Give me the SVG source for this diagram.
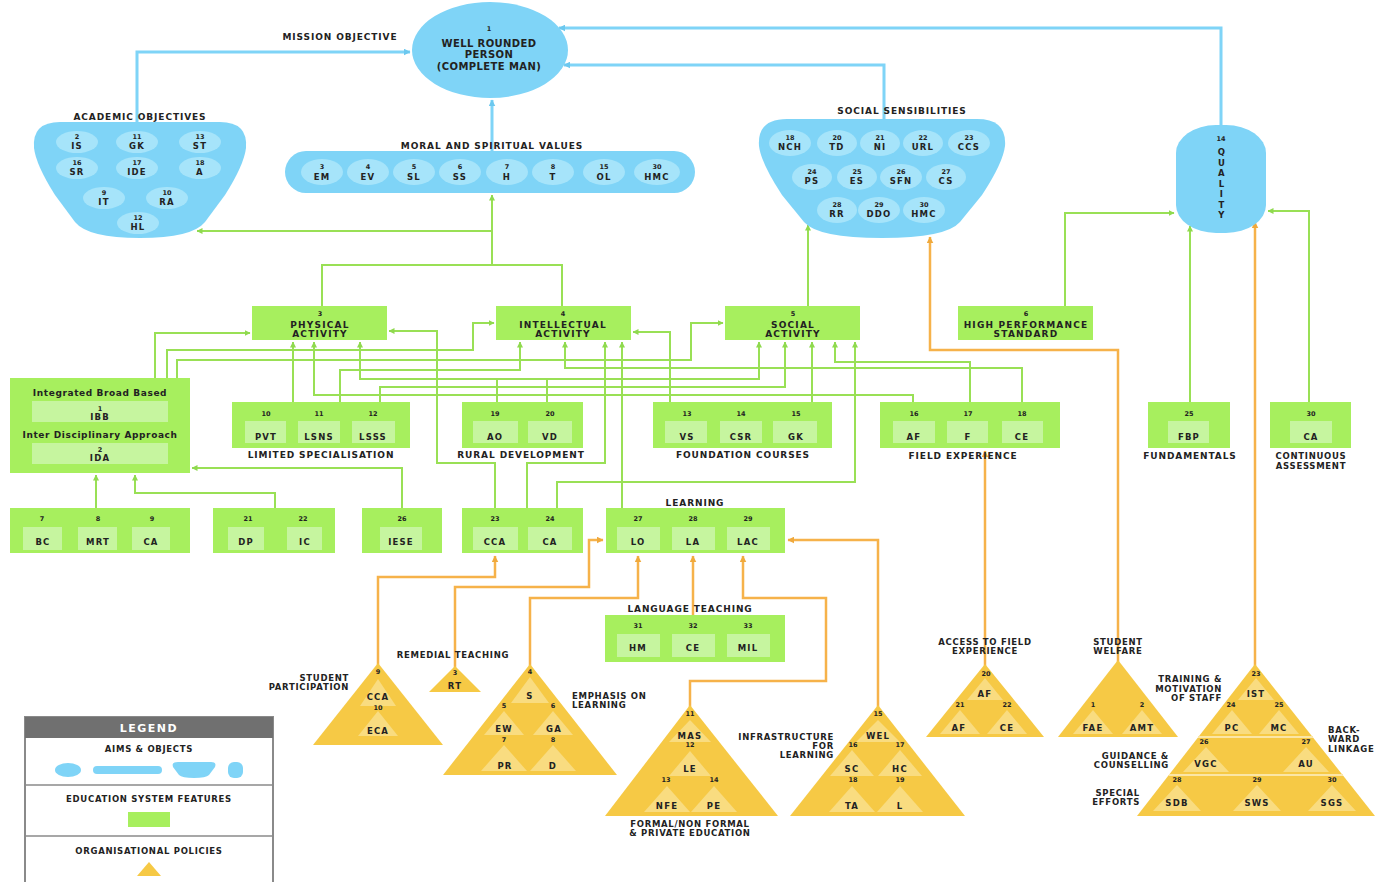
<svg xmlns="http://www.w3.org/2000/svg" width="1387" height="882" viewBox="0 0 1387 882">
<defs>
<style>
.t{font-family:"DejaVu Sans","Liberation Sans",Arial,sans-serif;font-weight:bold;fill:#222;text-anchor:middle}
.cap{font-size:9px;letter-spacing:0.9px}
.cap2{font-size:8.5px;letter-spacing:0.7px}
.r{text-anchor:end}.l{text-anchor:start}
.nm{font-size:6.5px}
.lb{font-size:8.5px;letter-spacing:1.2px}
.act{font-size:9px;letter-spacing:1.2px}
.mix{font-size:9px;letter-spacing:0.6px}
.big{font-size:10px;letter-spacing:0.4px}
.blue{fill:#7fd4f7}
.bin{fill:#a6e4fa}
.grn{fill:#a7ef5e}
.gin{fill:#c6f59f}
.gold{fill:#f6c945}
.goldin{fill:#f9dc80}
.cg{fill:none;stroke:#99e055;stroke-width:2;marker-end:url(#ag)}
.cgn{fill:none;stroke:#99e055;stroke-width:2}
.co{fill:none;stroke:#f6b24a;stroke-width:2.5;marker-end:url(#ao)}
.cb{fill:none;stroke:#7fd4f7;stroke-width:3;marker-end:url(#ab)}
</style>
<marker id="ag" viewBox="0 0 6 6" refX="5.5" refY="3" markerWidth="6" markerHeight="6" markerUnits="userSpaceOnUse" orient="auto"><path d="M0,0 L6,3 L0,6 Z" fill="#8fd94f"/></marker>
<marker id="ao" viewBox="0 0 6 6" refX="5.5" refY="3" markerWidth="7" markerHeight="7" markerUnits="userSpaceOnUse" orient="auto"><path d="M0,0 L6,3 L0,6 Z" fill="#f0a93c"/></marker>
<marker id="ab" viewBox="0 0 6 6" refX="5.5" refY="3" markerWidth="7" markerHeight="7" markerUnits="userSpaceOnUse" orient="auto"><path d="M0,0 L6,3 L0,6 Z" fill="#6cc8ef"/></marker>
</defs>
<rect width="1387" height="882" fill="#ffffff"/>

<g id="connectors">
<path class="cb" d="M137,122 V52 H410"/>
<path class="cb" d="M1221,125 V28 H559"/>
<path class="cb" d="M884,119 V65 H564"/>
<path class="cb" d="M492,151 V100"/>
<path class="cgn" d="M322,306 V265 H562 V306"/>
<path class="cg" d="M492,265 V195"/>
<path class="cg" d="M492,231 H197"/>
<path class="cg" d="M808,306 V225"/>
<path class="cg" d="M1065,306 V213 H1174"/>
<path class="cg" d="M1190,402 V226"/>
<path class="cg" d="M1309,402 V211 H1268"/>
<path class="cg" d="M155,378 V333 H250"/>
<path class="cg" d="M167,378 V350 H473 V323 H494"/>
<path class="cg" d="M177,378 V360 H691 V323 H723"/>
<path class="cg" d="M293,402 V342"/>
<path class="cg" d="M340,402 V370 H520 V342"/>
<path class="cg" d="M380,402 V387 H785 V342"/>
<path class="cg" d="M497,402 V379 H360 V342"/>
<path class="cgn" d="M497,379 H547"/>
<path class="cg" d="M547,402 V379 H759 V342"/>
<path class="cg" d="M913,402 V395 H314 V342"/>
<path class="cg" d="M970,402 V362 H835 V342"/>
<path class="cg" d="M1022,402 V368 H565 V342"/>
<path class="cg" d="M670,402 V332 H633"/>
<path class="cg" d="M812,402 V342"/>
<path class="cg" d="M495,508 V463 H437 V331 H389"/>
<path class="cg" d="M527,508 V463 H605 V342"/>
<path class="cg" d="M557,508 V482 H855 V342"/>
<path class="cg" d="M622,508 V342"/>
<path class="cg" d="M96,508 V475"/>
<path class="cg" d="M275,508 V493 H135 V475"/>
<path class="cg" d="M402,508 V468 H192"/>
<path class="co" d="M378,665 V577 H495 V556"/>
<path class="co" d="M455,668 V587 H589 V540 H603"/>
<path class="co" d="M530,666 V598 H638 V556"/>
<path class="co" d="M693,615 V556"/>
<path class="co" d="M690,707 V681 H826 V598 H743 V556"/>
<path class="co" d="M878,707 V540 H788"/>
<path class="co" d="M985,666 V451"/>
<path class="co" d="M1118,662 V350 H930 V237"/>
<path class="co" d="M1255,666 V222"/>
</g>

<g id="mission">
<ellipse class="blue" cx="490" cy="50" rx="78" ry="48"/>
<text class="t nm" x="489" y="31">1</text>
<text class="t big" x="489" y="47">WELL ROUNDED</text>
<text class="t big" x="489" y="58">PERSON</text>
<text class="t big" x="489" y="70">(COMPLETE MAN)</text>
<text class="t cap" x="340" y="40">MISSION OBJECTIVE</text>
</g>

<g id="academic-objectives">
<text class="t cap" x="140" y="120">ACADEMIC  OBJECTIVES</text>
<path class="blue" d="M60,122 H220 Q248,122 246,148 Q244,165 225,195 L205,222 Q192,238 140,238 Q88,238 75,222 L55,195 Q36,165 34,148 Q32,122 60,122 Z"/>
<ellipse class="bin" cx="77" cy="142" rx="21" ry="11"/><text class="t nm" x="77" y="139">2</text><text class="t lb" x="77" y="149">IS</text>
<ellipse class="bin" cx="137" cy="142" rx="21" ry="11"/><text class="t nm" x="137" y="139">11</text><text class="t lb" x="137" y="149">GK</text>
<ellipse class="bin" cx="200" cy="142" rx="21" ry="11"/><text class="t nm" x="200" y="139">13</text><text class="t lb" x="200" y="149">ST</text>
<ellipse class="bin" cx="77" cy="168" rx="21" ry="11"/><text class="t nm" x="77" y="165">16</text><text class="t lb" x="77" y="175">SR</text>
<ellipse class="bin" cx="137" cy="168" rx="21" ry="11"/><text class="t nm" x="137" y="165">17</text><text class="t lb" x="137" y="175">IDE</text>
<ellipse class="bin" cx="200" cy="168" rx="21" ry="11"/><text class="t nm" x="200" y="165">18</text><text class="t lb" x="200" y="175">A</text>
<ellipse class="bin" cx="104" cy="198" rx="21" ry="11"/><text class="t nm" x="104" y="195">9</text><text class="t lb" x="104" y="205">IT</text>
<ellipse class="bin" cx="167" cy="198" rx="21" ry="11"/><text class="t nm" x="167" y="195">10</text><text class="t lb" x="167" y="205">RA</text>
<ellipse class="bin" cx="138" cy="223" rx="21" ry="11"/><text class="t nm" x="138" y="220">12</text><text class="t lb" x="138" y="230">HL</text>
</g>

<g id="moral-values">
<text class="t cap" x="492" y="149">MORAL AND  SPIRITUAL VALUES</text>
<rect class="blue" x="285" y="151" width="410" height="42" rx="21"/>
<ellipse class="bin" cx="322" cy="172" rx="21" ry="13"/><text class="t nm" x="322" y="169">3</text><text class="t lb" x="322" y="180">EM</text>
<ellipse class="bin" cx="368" cy="172" rx="21" ry="13"/><text class="t nm" x="368" y="169">4</text><text class="t lb" x="368" y="180">EV</text>
<ellipse class="bin" cx="414" cy="172" rx="21" ry="13"/><text class="t nm" x="414" y="169">5</text><text class="t lb" x="414" y="180">SL</text>
<ellipse class="bin" cx="460" cy="172" rx="21" ry="13"/><text class="t nm" x="460" y="169">6</text><text class="t lb" x="460" y="180">SS</text>
<ellipse class="bin" cx="507" cy="172" rx="21" ry="13"/><text class="t nm" x="507" y="169">7</text><text class="t lb" x="507" y="180">H</text>
<ellipse class="bin" cx="553" cy="172" rx="21" ry="13"/><text class="t nm" x="553" y="169">8</text><text class="t lb" x="553" y="180">T</text>
<ellipse class="bin" cx="604" cy="172" rx="21" ry="13"/><text class="t nm" x="604" y="169">15</text><text class="t lb" x="604" y="180">OL</text>
<ellipse class="bin" cx="657" cy="172" rx="23" ry="13"/><text class="t nm" x="657" y="169">30</text><text class="t lb" x="657" y="180">HMC</text>
</g>

<g id="social-sensibilities">
<text class="t cap" x="902" y="114">SOCIAL  SENSIBILITIES</text>
<path class="blue" d="M787,119 H977 Q1007,119 1005,146 Q1003,163 982,195 L960,222 Q946,238 882,238 Q818,238 804,222 L782,195 Q761,163 759,146 Q757,119 787,119 Z"/>
<ellipse class="bin" cx="790" cy="143" rx="21" ry="13"/><text class="t nm" x="790" y="140">18</text><text class="t lb" x="790" y="150">NCH</text>
<ellipse class="bin" cx="837" cy="143" rx="20" ry="13"/><text class="t nm" x="837" y="140">20</text><text class="t lb" x="837" y="150">TD</text>
<ellipse class="bin" cx="880" cy="143" rx="20" ry="13"/><text class="t nm" x="880" y="140">21</text><text class="t lb" x="880" y="150">NI</text>
<ellipse class="bin" cx="923" cy="143" rx="20" ry="13"/><text class="t nm" x="923" y="140">22</text><text class="t lb" x="923" y="150">URL</text>
<ellipse class="bin" cx="969" cy="143" rx="21" ry="13"/><text class="t nm" x="969" y="140">23</text><text class="t lb" x="969" y="150">CCS</text>
<ellipse class="bin" cx="812" cy="177" rx="20" ry="13"/><text class="t nm" x="812" y="174">24</text><text class="t lb" x="812" y="184">PS</text>
<ellipse class="bin" cx="857" cy="177" rx="20" ry="13"/><text class="t nm" x="857" y="174">25</text><text class="t lb" x="857" y="184">ES</text>
<ellipse class="bin" cx="901" cy="177" rx="21" ry="13"/><text class="t nm" x="901" y="174">26</text><text class="t lb" x="901" y="184">SFN</text>
<ellipse class="bin" cx="946" cy="177" rx="20" ry="13"/><text class="t nm" x="946" y="174">27</text><text class="t lb" x="946" y="184">CS</text>
<ellipse class="bin" cx="837" cy="210" rx="20" ry="13"/><text class="t nm" x="837" y="207">28</text><text class="t lb" x="837" y="217">RR</text>
<ellipse class="bin" cx="879" cy="210" rx="21" ry="13"/><text class="t nm" x="879" y="207">29</text><text class="t lb" x="879" y="217">DDO</text>
<ellipse class="bin" cx="924" cy="210" rx="21" ry="13"/><text class="t nm" x="924" y="207">30</text><text class="t lb" x="924" y="217">HMC</text>
</g>

<g id="quality">
<rect class="blue" x="1176" y="125" width="90" height="108" rx="40" ry="28"/>
<text class="t nm" x="1221" y="141">14</text>
<text class="t lb" x="1222" y="155">Q</text>
<text class="t lb" x="1222" y="165.5">U</text>
<text class="t lb" x="1222" y="176">A</text>
<text class="t lb" x="1222" y="186.5">L</text>
<text class="t lb" x="1222" y="197">I</text>
<text class="t lb" x="1222" y="207.5">T</text>
<text class="t lb" x="1222" y="218">Y</text>
</g>

<g id="physical-activity">
<rect class="grn" x="252" y="306" width="135" height="34"/>
<text class="t nm" x="320" y="315.5">3</text>
<text class="t act" x="320" y="327.5">PHYSICAL</text>
<text class="t act" x="320" y="336.5">ACTIVITY</text>
</g>
<g id="intellectual-activity">
<rect class="grn" x="496" y="306" width="135" height="34"/>
<text class="t nm" x="563" y="315.5">4</text>
<text class="t act" x="563" y="327.5">INTELLECTUAL</text>
<text class="t act" x="563" y="336.5">ACTIVITY</text>
</g>
<g id="social-activity">
<rect class="grn" x="725" y="306" width="135" height="34"/>
<text class="t nm" x="793" y="315.5">5</text>
<text class="t act" x="793" y="327.5">SOCIAL</text>
<text class="t act" x="793" y="336.5">ACTIVITY</text>
</g>
<g id="high-performance">
<rect class="grn" x="958" y="306" width="135" height="34"/>
<text class="t nm" x="1026" y="315.5">6</text>
<text class="t act" x="1026" y="327.5">HIGH PERFORMANCE</text>
<text class="t act" x="1026" y="336.5">STANDARD</text>
</g>

<g id="integrated">
<rect class="grn" x="10" y="378" width="180" height="95"/>
<text class="t mix" x="100" y="396">Integrated Broad Based</text>
<rect class="gin" x="32" y="401" width="136" height="21"/>
<text class="t nm" x="100" y="410.5">1</text>
<text class="t lb" x="100" y="420">IBB</text>
<text class="t mix" x="100" y="437.5">Inter Disciplinary Approach</text>
<rect class="gin" x="32" y="443" width="136" height="21"/>
<text class="t nm" x="100" y="451.5">2</text>
<text class="t lb" x="100" y="461">IDA</text>
</g>

<g id="limited-specialisation">
<rect class="grn" x="232" y="402" width="178" height="46"/>
<rect class="gin" x="245" y="421" width="41" height="22"/><rect class="gin" x="298" y="421" width="42" height="22"/><rect class="gin" x="352" y="421" width="43" height="22"/>
<text class="t nm" x="266" y="415.5">10</text><text class="t nm" x="319" y="415.5">11</text><text class="t nm" x="373" y="415.5">12</text>
<text class="t lb" x="266" y="440">PVT</text><text class="t lb" x="319" y="440">LSNS</text><text class="t lb" x="373" y="440">LSSS</text>
<text class="t cap" x="321" y="458">LIMITED SPECIALISATION</text>
</g>

<g id="rural-development">
<rect class="grn" x="462" y="402" width="121" height="46"/>
<rect class="gin" x="473" y="421" width="45" height="22"/><rect class="gin" x="528" y="421" width="44" height="22"/>
<text class="t nm" x="495" y="415.5">19</text><text class="t nm" x="550" y="415.5">20</text>
<text class="t lb" x="495" y="440">AO</text><text class="t lb" x="550" y="440">VD</text>
<text class="t cap" x="521" y="458">RURAL DEVELOPMENT</text>
</g>

<g id="foundation-courses">
<rect class="grn" x="653" y="402" width="179" height="46"/>
<rect class="gin" x="665" y="421" width="42" height="22"/><rect class="gin" x="720" y="421" width="42" height="22"/><rect class="gin" x="773" y="421" width="44" height="22"/>
<text class="t nm" x="687" y="415.5">13</text><text class="t nm" x="741" y="415.5">14</text><text class="t nm" x="796" y="415.5">15</text>
<text class="t lb" x="687" y="440">VS</text><text class="t lb" x="741" y="440">CSR</text><text class="t lb" x="796" y="440">GK</text>
<text class="t cap" x="743" y="458">FOUNDATION COURSES</text>
</g>

<g id="field-experience">
<rect class="grn" x="880" y="402" width="180" height="46"/>
<rect class="gin" x="893" y="421" width="42" height="22"/><rect class="gin" x="947" y="421" width="41" height="22"/><rect class="gin" x="1002" y="421" width="41" height="22"/>
<text class="t nm" x="914" y="415.5">16</text><text class="t nm" x="968" y="415.5">17</text><text class="t nm" x="1022" y="415.5">18</text>
<text class="t lb" x="914" y="440">AF</text><text class="t lb" x="968" y="440">F</text><text class="t lb" x="1022" y="440">CE</text>
<text class="t cap" x="963" y="459">FIELD EXPERIENCE</text>
</g>

<g id="fundamentals">
<rect class="grn" x="1148" y="402" width="82" height="46"/>
<rect class="gin" x="1168" y="421" width="41" height="22"/>
<text class="t nm" x="1189" y="415.5">25</text>
<text class="t lb" x="1189" y="440">FBP</text>
<text class="t cap" x="1190" y="459">FUNDAMENTALS</text>
</g>

<g id="continuous-assessment">
<rect class="grn" x="1270" y="402" width="81" height="46"/>
<rect class="gin" x="1290" y="421" width="42" height="22"/>
<text class="t nm" x="1311" y="415.5">30</text>
<text class="t lb" x="1311" y="440">CA</text>
<text class="t cap2" x="1311" y="459">CONTINUOUS</text>
<text class="t cap2" x="1311" y="469">ASSESSMENT</text>
</g>

<g id="bc-mrt-ca">
<rect class="grn" x="10" y="508" width="180" height="45"/>
<rect class="gin" x="23" y="527" width="39" height="23"/><rect class="gin" x="78" y="527" width="39" height="23"/><rect class="gin" x="132" y="527" width="38" height="23"/>
<text class="t nm" x="42" y="520.5">7</text><text class="t nm" x="98" y="520.5">8</text><text class="t nm" x="152" y="520.5">9</text>
<text class="t lb" x="43" y="545">BC</text><text class="t lb" x="98" y="545">MRT</text><text class="t lb" x="151" y="545">CA</text>
</g>

<g id="dp-ic">
<rect class="grn" x="213" y="508" width="122" height="45"/>
<rect class="gin" x="228" y="527" width="36" height="23"/><rect class="gin" x="287" y="527" width="35" height="23"/>
<text class="t nm" x="248" y="520.5">21</text><text class="t nm" x="303" y="520.5">22</text>
<text class="t lb" x="246" y="545">DP</text><text class="t lb" x="305" y="545">IC</text>
</g>

<g id="iese">
<rect class="grn" x="362" y="508" width="80" height="45"/>
<rect class="gin" x="380" y="527" width="42" height="23"/>
<text class="t nm" x="402" y="520.5">26</text>
<text class="t lb" x="401" y="545">IESE</text>
</g>

<g id="cca-ca">
<rect class="grn" x="462" y="508" width="121" height="45"/>
<rect class="gin" x="473" y="527" width="45" height="23"/><rect class="gin" x="528" y="527" width="44" height="23"/>
<text class="t nm" x="495" y="520.5">23</text><text class="t nm" x="550" y="520.5">24</text>
<text class="t lb" x="495" y="545">CCA</text><text class="t lb" x="550" y="545">CA</text>
</g>

<g id="learning">
<text class="t cap" x="695" y="506">LEARNING</text>
<rect class="grn" x="606" y="508" width="179" height="45"/>
<rect class="gin" x="617" y="527" width="43" height="23"/><rect class="gin" x="672" y="527" width="43" height="23"/><rect class="gin" x="727" y="527" width="43" height="23"/>
<text class="t nm" x="638" y="520.5">27</text><text class="t nm" x="693" y="520.5">28</text><text class="t nm" x="748" y="520.5">29</text>
<text class="t lb" x="638" y="545">LO</text><text class="t lb" x="693" y="545">LA</text><text class="t lb" x="748" y="545">LAC</text>
</g>

<g id="language-teaching">
<text class="t cap" x="690" y="612">LANGUAGE TEACHING</text>
<rect class="grn" x="605" y="615" width="180" height="47"/>
<rect class="gin" x="617" y="634" width="43" height="23"/><rect class="gin" x="672" y="634" width="43" height="23"/><rect class="gin" x="727" y="634" width="43" height="23"/>
<text class="t nm" x="638" y="627.5">31</text><text class="t nm" x="693" y="627.5">32</text><text class="t nm" x="748" y="627.5">33</text>
<text class="t lb" x="638" y="651">HM</text><text class="t lb" x="693" y="651">CE</text><text class="t lb" x="748" y="651">MIL</text>
</g>

<g id="student-participation">
<polygon class="gold" points="378,663 443,745 313,745"/>
<polygon class="goldin" points="378,679 396,706 360,706"/>
<polygon class="goldin" points="378,711 398,736 358,736"/>
<text class="t nm" x="378" y="673.5">9</text>
<text class="t lb" x="378" y="700">CCA</text>
<text class="t nm" x="378" y="709.5">10</text>
<text class="t lb" x="378" y="734">ECA</text>
<text class="t cap2 r" x="349" y="681">STUDENT</text>
<text class="t cap2 r" x="349" y="690">PARTICIPATION</text>
</g>

<g id="remedial-teaching">
<polygon class="gold" points="455,666 481,692 429,692"/>
<text class="t nm" x="455" y="675">3</text>
<text class="t lb" x="455" y="689">RT</text>
<text class="t cap2" x="453" y="658">REMEDIAL TEACHING</text>
</g>

<g id="emphasis-on-learning">
<polygon class="gold" points="530,664 617,775 443,775"/>
<polygon class="goldin" points="530,677 549,703 511,703"/>
<polygon class="goldin" points="504,711 524,735 484,735"/>
<polygon class="goldin" points="553,711 573,735 533,735"/>
<polygon class="goldin" points="504,745 527,771 481,771"/>
<polygon class="goldin" points="553,745 576,771 530,771"/>
<text class="t nm" x="530" y="673.5">4</text>
<text class="t lb" x="530" y="699">S</text>
<text class="t nm" x="504" y="707.5">5</text><text class="t nm" x="553" y="707.5">6</text>
<text class="t lb" x="504" y="732">EW</text><text class="t lb" x="554" y="732">GA</text>
<text class="t nm" x="504" y="741.5">7</text><text class="t nm" x="553" y="741.5">8</text>
<text class="t lb" x="505" y="769">PR</text><text class="t lb" x="553" y="769">D</text>
<text class="t cap2 l" x="572" y="699">EMPHASIS ON</text>
<text class="t cap2 l" x="572" y="708">LEARNING</text>
</g>

<g id="formal-education">
<polygon class="gold" points="690,705 778,816 605,816"/>
<polygon class="goldin" points="690,720 711,742 669,742"/>
<polygon class="goldin" points="690,751 711,776 669,776"/>
<polygon class="goldin" points="667,786 690,812 644,812"/>
<polygon class="goldin" points="714,786 737,812 691,812"/>
<text class="t nm" x="690" y="715.5">11</text>
<text class="t lb" x="690" y="739">MAS</text>
<text class="t nm" x="690" y="746.5">12</text>
<text class="t lb" x="690" y="772">LE</text>
<text class="t nm" x="666" y="782">13</text><text class="t nm" x="714" y="782">14</text>
<text class="t lb" x="667" y="809">NFE</text><text class="t lb" x="714" y="809">PE</text>
<text class="t cap2" x="690" y="827">FORMAL/NON FORMAL</text>
<text class="t cap2" x="690" y="836">&amp; PRIVATE EDUCATION</text>
<text class="t cap2 r" x="834" y="740">INFRASTRUCTURE</text>
<text class="t cap2 r" x="834" y="749">FOR</text>
<text class="t cap2 r" x="834" y="758">LEARNING</text>
</g>

<g id="infrastructure">
<polygon class="gold" points="878,705 965,816 790,816"/>
<polygon class="goldin" points="878,720 900,742 856,742"/>
<polygon class="goldin" points="852,750 874,776 830,776"/>
<polygon class="goldin" points="900,750 922,776 878,776"/>
<polygon class="goldin" points="852,786 875,812 829,812"/>
<polygon class="goldin" points="900,786 923,812 877,812"/>
<text class="t nm" x="878" y="715.5">15</text>
<text class="t lb" x="878" y="739">WEL</text>
<text class="t nm" x="853" y="746.5">16</text><text class="t nm" x="900" y="746.5">17</text>
<text class="t lb" x="852" y="772">SC</text><text class="t lb" x="900" y="772">HC</text>
<text class="t nm" x="853" y="782">18</text><text class="t nm" x="900" y="782">19</text>
<text class="t lb" x="852" y="809">TA</text><text class="t lb" x="900" y="809">L</text>
</g>

<g id="access-to-field">
<text class="t cap2" x="985" y="645">ACCESS TO FIELD</text>
<text class="t cap2" x="985" y="654">EXPERIENCE</text>
<polygon class="gold" points="985,664 1044,737 926,737"/>
<polygon class="goldin" points="985,678 1003,700 967,700"/>
<polygon class="goldin" points="960,710 980,734 940,734"/>
<polygon class="goldin" points="1007,710 1027,734 987,734"/>
<text class="t nm" x="986" y="675.5">20</text>
<text class="t lb" x="985" y="697">AF</text>
<text class="t nm" x="960" y="706.5">21</text><text class="t nm" x="1007" y="706.5">22</text>
<text class="t lb" x="959" y="731">AF</text><text class="t lb" x="1007" y="731">CE</text>
</g>

<g id="student-welfare">
<text class="t cap2" x="1118" y="645">STUDENT</text>
<text class="t cap2" x="1118" y="654">WELFARE</text>
<polygon class="gold" points="1118,660 1178,737 1058,737"/>
<polygon class="goldin" points="1093,710 1113,734 1073,734"/>
<polygon class="goldin" points="1142,710 1162,734 1122,734"/>
<text class="t nm" x="1093" y="706.5">1</text><text class="t nm" x="1142" y="706.5">2</text>
<text class="t lb" x="1093" y="731">FAE</text><text class="t lb" x="1142" y="731">AMT</text>
<text class="t cap2 r" x="1222" y="682">TRAINING &amp;</text>
<text class="t cap2 r" x="1222" y="692">MOTIVATION</text>
<text class="t cap2 r" x="1222" y="701">OF STAFF</text>
</g>

<g id="backward-linkage">
<polygon class="gold" points="1255,664 1375,816 1137,816"/>
<line x1="1198" y1="737" x2="1313" y2="737" stroke="#fbe6a6" stroke-width="2"/>
<line x1="1169" y1="775" x2="1343" y2="775" stroke="#fbe6a6" stroke-width="2"/>
<polygon class="goldin" points="1256,678 1274,700 1238,700"/>
<polygon class="goldin" points="1232,710 1252,734 1212,734"/>
<polygon class="goldin" points="1279,710 1299,734 1259,734"/>
<polygon class="goldin" points="1206,747 1229,772 1183,772"/>
<polygon class="goldin" points="1306,747 1329,772 1283,772"/>
<polygon class="goldin" points="1177,785 1201,811 1153,811"/>
<polygon class="goldin" points="1257,785 1281,811 1233,811"/>
<polygon class="goldin" points="1332,785 1356,811 1308,811"/>
<text class="t nm" x="1256" y="675.5">23</text>
<text class="t lb" x="1256" y="697">IST</text>
<text class="t nm" x="1231" y="706.5">24</text><text class="t nm" x="1279" y="706.5">25</text>
<text class="t lb" x="1232" y="731">PC</text><text class="t lb" x="1279" y="731">MC</text>
<text class="t nm" x="1204" y="743.5">26</text><text class="t nm" x="1306" y="743.5">27</text>
<text class="t lb" x="1206" y="767">VGC</text><text class="t lb" x="1306" y="767">AU</text>
<text class="t nm" x="1177" y="781.5">28</text><text class="t nm" x="1257" y="781.5">29</text><text class="t nm" x="1332" y="781.5">30</text>
<text class="t lb" x="1177" y="806">SDB</text><text class="t lb" x="1257" y="806">SWS</text><text class="t lb" x="1332" y="806">SGS</text>
<text class="t cap2 l" x="1328" y="733">BACK-</text>
<text class="t cap2 l" x="1328" y="742">WARD</text>
<text class="t cap2 l" x="1328" y="752">LINKAGE</text>
<text class="t cap2 r" x="1169" y="759">GUIDANCE &amp;</text>
<text class="t cap2 r" x="1169" y="768">COUNSELLING</text>
<text class="t cap2 r" x="1140" y="796">SPECIAL</text>
<text class="t cap2 r" x="1140" y="805">EFFORTS</text>
</g>

<g id="legend">
<rect x="25" y="717" width="248" height="170" fill="#ffffff" stroke="#8a8a8a" stroke-width="2"/>
<rect x="25" y="717" width="248" height="21" fill="#707070"/>
<text class="t" x="149" y="731.5" style="font-size:11px;letter-spacing:1.5px;fill:#ffffff">LEGEND</text>
<text class="t cap2" x="149" y="752">AIMS &amp; OBJECTS</text>
<ellipse class="blue" cx="68" cy="770" rx="13" ry="7"/>
<rect class="blue" x="93" y="766" width="69" height="8" rx="4"/>
<path class="blue" d="M178,762 H211 Q217,762 215,767 L209,775 Q206,778 194,778 Q182,778 179,775 L173,767 Q171,762 178,762 Z"/>
<rect class="blue" x="228" y="762" width="15" height="16" rx="6"/>
<line x1="25" y1="785" x2="273" y2="785" stroke="#8a8a8a" stroke-width="1.5"/>
<text class="t cap2" x="149" y="802">EDUCATION SYSTEM FEATURES</text>
<rect class="grn" x="128" y="812" width="42" height="15"/>
<line x1="25" y1="836" x2="273" y2="836" stroke="#8a8a8a" stroke-width="1.5"/>
<text class="t cap2" x="149" y="854">ORGANISATIONAL POLICIES</text>
<polygon class="gold" points="149,862 161,876 137,876"/>
</g>
</svg>
